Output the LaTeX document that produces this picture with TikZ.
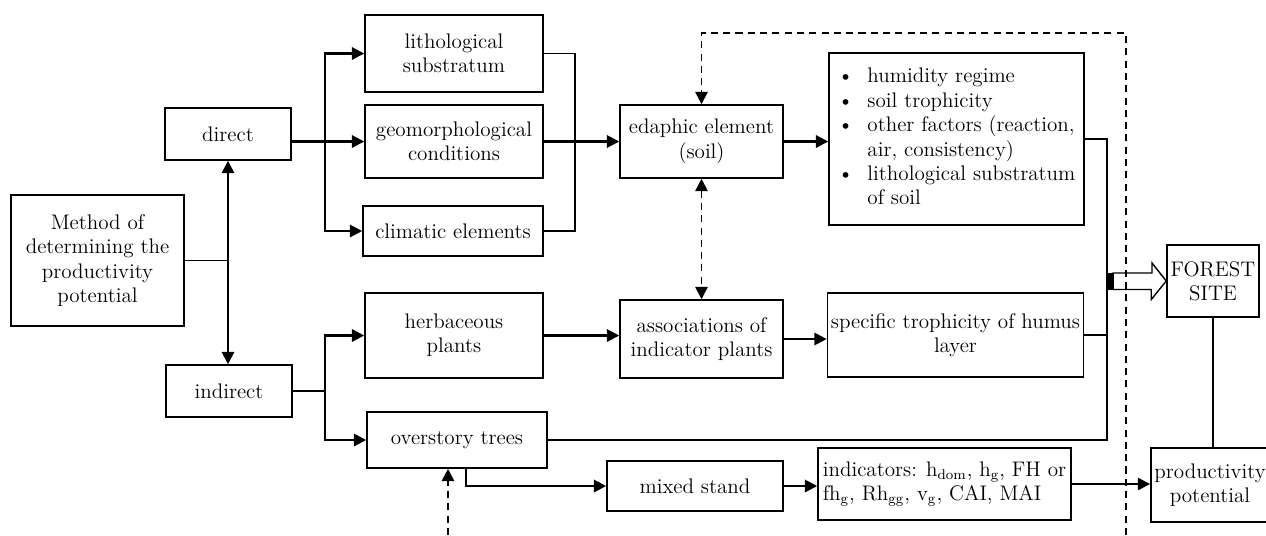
\documentclass[tikz,border=0pt]{standalone}
\usetikzlibrary{arrows.meta,calc}

\begin{document}
\begin{tikzpicture}[x=0.02cm,y=-0.02cm,
    font=\fontsize{12}{13.9}\selectfont,
    box/.style={draw,line width=0.9pt,align=center,inner sep=2pt},
    link/.style={line width=0.8pt},
    arr/.style={line width=1.2pt,-{Triangle[length=7pt,width=7pt]}},
    arrboth/.style={line width=1.2pt,{Triangle[length=7pt,width=7pt]}-{Triangle[length=7pt,width=7pt]}},
    dasharr/.style={line width=1pt,dash pattern=on 4pt off 3pt,-{Triangle[length=7pt,width=7pt]}},
    dashboth/.style={line width=1pt,dash pattern=on 4pt off 3pt,{Triangle[length=7pt,width=7pt]}-{Triangle[length=7pt,width=7pt]}}]
    \useasboundingbox (0,0) rectangle (1266,535);
    \node[box,minimum width=3.46cm,minimum height=2.62cm] (method) at (97.5,260.5) {Method of\\determining the\\productivity\\potential};
    \node[box,minimum width=2.52cm,minimum height=1.04cm] (direct) at (228,134) {direct};
    \node[box,minimum width=2.52cm,minimum height=1.04cm] (indirect) at (229,391) {indirect};
    \node[box,minimum width=3.56cm,minimum height=1.54cm] (lith) at (454,53.5) {lithological\\substratum};
    \node[box,minimum width=3.56cm,minimum height=1.46cm] (geo) at (454,141.5) {geomorphological\\conditions};
    \node[box,minimum width=3.6cm,minimum height=1cm] (clim) at (453,231) {climatic elements};
    \node[box,minimum width=3.26cm,minimum height=1.46cm] (edaphic) at (701.5,141.5) {edaphic element\\(soil)};
    \node[box,minimum width=5.1cm,minimum height=3.44cm] (factors) at (956.5,139) {%
      \begin{tabular}{@{}l@{~~}l@{}}
        \textbullet & humidity regime\\
        \textbullet & soil trophicity\\
        \textbullet & other factors (reaction,\\
                    & air, consistency)\\
        \textbullet & lithological substratum\\
                    & of soil
      \end{tabular}};
    \node[box,minimum width=3.56cm,minimum height=1.7cm] (herb) at (454,335.5) {herbaceous\\plants};
    \node[box,minimum width=3.26cm,minimum height=1.56cm] (assoc) at (701.5,339) {associations of\\indicator plants};
    \node[box,minimum width=5.1cm,minimum height=1.68cm] (humus) at (955.5,335) {specific trophicity of humus\\layer};
    \node[box,minimum width=3.6cm,minimum height=1.12cm] (over) at (457,440) {overstory trees};
    \node[box,minimum width=3.52cm,minimum height=1cm] (mixed) at (695,486) {mixed stand};
    \node[box,align=left,minimum width=5.06cm,minimum height=1.44cm] (indic) at (944.5,484)
      {indicators: h$_{\mathrm{dom}}$, h$_{\mathrm{g}}$, FH or\\fh$_{\mathrm{g}}$, Rh$_{\mathrm{gg}}$, v$_{\mathrm{g}}$, CAI, MAI};
    \node[box,minimum width=1.84cm,minimum height=1.44cm] (forest) at (1213,281) {FOREST\\SITE};
    \node[box,minimum width=2.2cm,minimum height=1.48cm] (prod) at (1210,485) {productivity\\potential};
    \coordinate (dj) at (325,141.5);
    \coordinate (ej) at (575,141.5);
    \coordinate (ij) at (325,391);
    \coordinate (fj) at (1107,281.5);
    \coordinate (dtop) at (1126,33);
    \coordinate (dbot) at (1126,535);
    \coordinate (obot) at (448,535);
    % direct / indirect
    \draw[link] (method.east) -- (method.east -| direct.south);
    \draw[arrboth] (direct.south) -- (direct.south |- indirect.north);
    \draw[arr] (direct.east |- geo.west) -- (geo.west);
    \draw[arr] (dj) |- (lith.west);
    \draw[arr] (dj) |- (clim.west);
    \draw[link] (lith.east) -| (ej);
    \draw[link] (clim.east) -| (ej);
    \draw[arr] (geo.east) -- (edaphic.west);
    \draw[arr] (edaphic.east) -- (edaphic.east -| factors.west);
    \draw[link] (indirect.east) -- (ij);
    \draw[arr] (ij) |- (herb.west);
    \draw[arr] (ij) |- (over.west);
    \draw[arr] (herb.east) -- (herb.east -| assoc.west);
    \draw[arr] (assoc.east) -- (assoc.east -| humus.west);
    \draw[arr] ([xshift=0.18cm]over.south) |- (mixed.west);
    \draw[arr] (mixed.east) -- (mixed.east -| indic.west);
    \draw[arr] (indic.east) -- (indic.east -| prod.west);
    % to forest site
    \draw[link] (factors.east) -| (fj);
    \draw[link] (humus.east) -| (fj);
    \draw[link] (over.east) -| (fj);
    \draw[link] (forest.south) -- (forest.south |- prod.north);
    \draw[link,fill=white] (fj) ++(6,-8.5) -- ++(39,0) -- ++(0,-10) -- (forest.west)
      -- ++(-15,18.5) -- ++(0,-10) -- ++(-39,0) -- cycle;
    \fill (fj) ++(-1,-8.5) rectangle ++(8,17);
    % dashed links
    \draw[dasharr] (dbot) -- (dtop) -| (edaphic.north);
    \draw[dashboth] (edaphic.south) -- (assoc.north);
    \draw[dasharr] (obot) -- (obot |- over.south);
\end{tikzpicture}
\end{document}
